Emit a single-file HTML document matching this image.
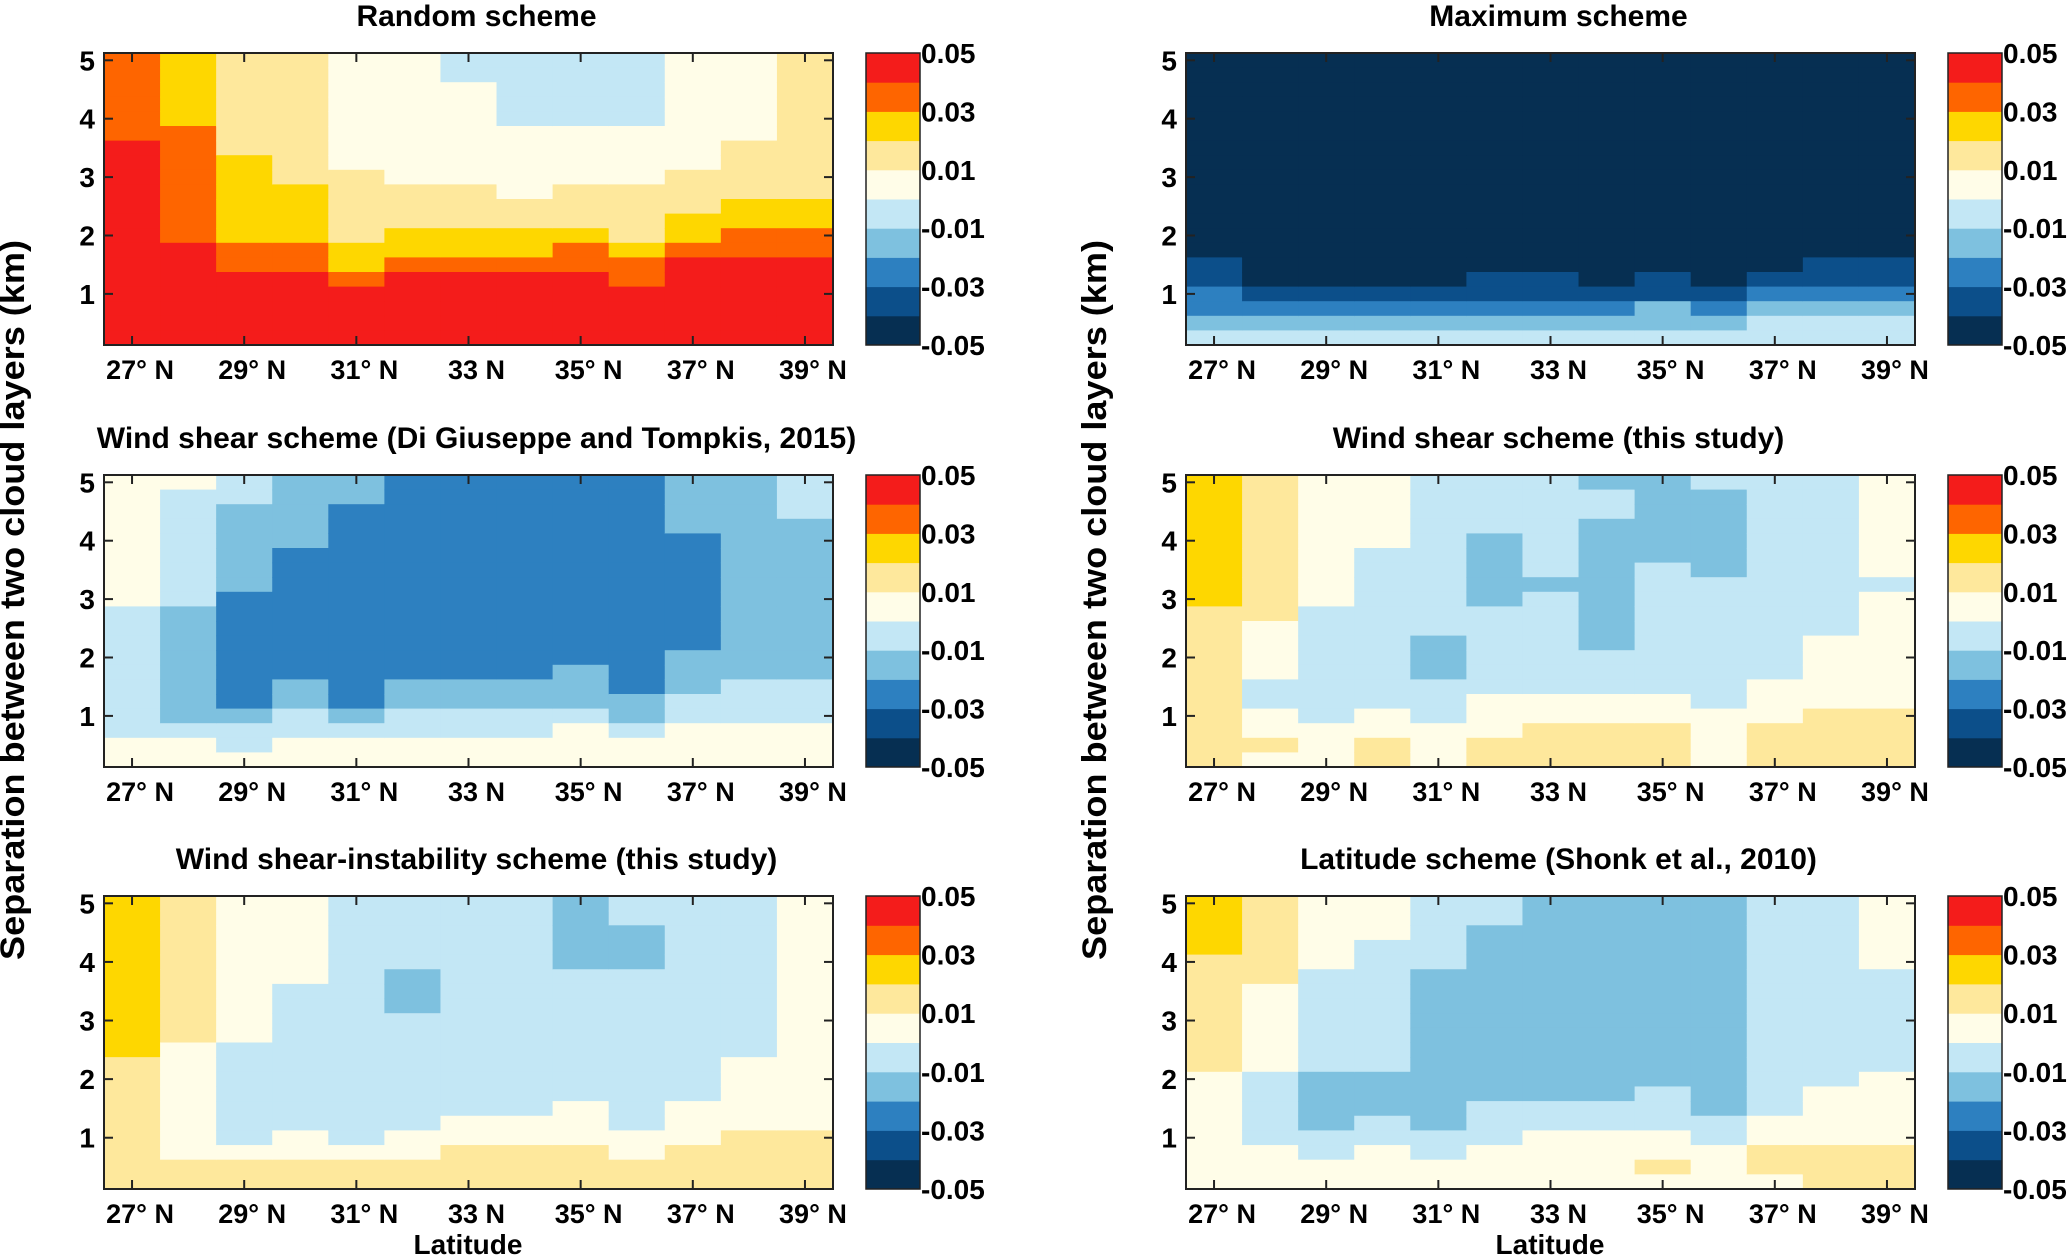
<!DOCTYPE html>
<html><head><meta charset="utf-8"><style>
html,body{margin:0;padding:0;background:#fff;}
svg{display:block;}
text{font-family:"Liberation Sans",sans-serif;font-weight:bold;fill:#000;}
</style></head>
<body>
<svg id="fig" width="2067" height="1258" viewBox="0 0 2067 1258" xmlns="http://www.w3.org/2000/svg">
<text x="24" y="600" font-size="34" text-anchor="middle" transform="rotate(-90 24 600)" textLength="720" lengthAdjust="spacingAndGlyphs">Separation between two cloud layers (km)</text>
<text x="1106" y="600" font-size="34" text-anchor="middle" transform="rotate(-90 1106 600)" textLength="720" lengthAdjust="spacingAndGlyphs">Separation between two cloud layers (km)</text>
<text x="468" y="1254" font-size="28" text-anchor="middle">Latitude</text>
<text x="1550" y="1254" font-size="28" text-anchor="middle">Latitude</text>
</svg>
<script>
// categories: latitude columns (deg N) and height rows (km, top to bottom centres)
const latitudes = [27,28,29,30,31,32,33,34,35,36,37,38,39];
const heights = [5,4.75,4.5,4.25,4,3.75,3.5,3.25,3,2.75,2.5,2.25,2,1.75,1.5,1.25,1,0.75,0.5,0.25];
const xTickValues = [27,29,31,33,35,37,39];
const xTickLabels = ["27° N","29° N","31° N","33 N","35° N","37° N","39° N"];
const yTickValues = [1,2,3,4,5];
const cbLevels = [-0.05,-0.04,-0.03,-0.02,-0.01,0,0.01,0.02,0.03,0.04,0.05];
const cbTickLabels = ["-0.05","-0.03","-0.01","0.01","0.03","0.05"];
const cbColors = ["#062f52","#0c4f8a","#2d80c0","#7ec1df","#c3e7f5","#fffde8","#fee89c","#fed700","#fe6500","#f41c1b"];
// series: each string = one latitude column, digits = colour class, top row first
const randomScheme = ["88888899999999999999","77777888888889999999","66666667777778899999","66666666677778899999","55555555666667789999","55555555566677899999","44555555566677899999","44444555556677899999","44444555566678899999","44444555566667889999","55555555666778999999","55555566667788999999","66666666667788999999"];
const maximumScheme = ["00000000000000112234","00000000000000001234","00000000000000001234","00000000000000001234","00000000000000001234","00000000000000011234","00000000000000011234","00000000000000001234","00000000000000011334","00000000000000001234","00000000000000012344","00000000000000112344","00000000000000112344"];
const windShearDG = ["55555555544444444455","54444444433333333455","44333333222222223445","33333222222222334455","33222222222222223455","22222222222222334455","22222222222222334455","22222222222222334455","22222222222223334555","22222222222222233455","33332222222233344555","33333333333333444555","44433333333333444555"];
const windShearThis = ["77777777766666666666","66666666665555445565","55555555544444444555","55555444444444445566","44444444444333444555","44443333344444455566","44444443444444455666","34433333333344455666","33333344444444455666","43333334444444445555","44444444444444555666","44444444444555556666","55555554555555556666"];
const shearInstability = ["77777777777666666666","66666666665555555566","55555555554444444566","55555544444444445566","44444444444444444566","44444333444444445566","44444444444444455666","44444444444444455666","33333444444444555666","44333444444444445566","44444444444444555666","44444444444555556666","55555555555555556666"];
const latitudeScheme = ["77776666666655555555","66666655555544444555","55555444444433334455","55544444444433344555","44444333333333334455","44333333333333444555","33333333333333445555","33333333333333445555","33333333333334445565","33333333333333344555","44444444444444455665","44444444444445555666","55555444444455555666"];

const NS="http://www.w3.org/2000/svg";
const svg=document.getElementById('fig');
function mk(tag,attrs,parent){const e=document.createElementNS(NS,tag);for(const k in attrs)e.setAttribute(k,attrs[k]);(parent||svg).appendChild(e);return e;}
function classValue(d){return (cbLevels[d]+cbLevels[d+1])/2;}
function colorOf(v){for(let i=0;i<cbColors.length;i++){if(v<cbLevels[i+1])return cbColors[i];}return cbColors[cbColors.length-1];}

const panels=[
 {title:"Random scheme",data:randomScheme,x0:104,x1:833,y0:53,y1:345,cb:866,name:"random"},
 {title:"Maximum scheme",data:maximumScheme,x0:1186,x1:1915,y0:53,y1:345,cb:1948,name:"maximum"},
 {title:"Wind shear scheme (Di Giuseppe and Tompkis, 2015)",data:windShearDG,x0:104,x1:833,y0:475,y1:767,cb:866,name:"wind-shear-dg"},
 {title:"Wind shear scheme (this study)",data:windShearThis,x0:1186,x1:1915,y0:475,y1:767,cb:1948,name:"wind-shear-this"},
 {title:"Wind shear-instability scheme (this study)",data:shearInstability,x0:104,x1:833,y0:896,y1:1189,cb:866,name:"shear-instability"},
 {title:"Latitude scheme (Shonk et al., 2010)",data:latitudeScheme,x0:1186,x1:1915,y0:896,y1:1189,cb:1948,name:"latitude"}
];
panels.forEach(p=>{
  const g=mk('g',{});
  
  
  const xs=lat=>p.x0+(lat-26.5)/13*(p.x1-p.x0);
  const ys=h=>p.y1-(h-0.125)/5*(p.y1-p.y0);
  const t=mk('text',{x:(p.x0+p.x1)/2+8,y:p.y0-27,'font-size':30,'text-anchor':'middle'},g);
  t.textContent=p.title;
  
  
  p.data.forEach((col,ci)=>{
    for(let ri=0;ri<col.length;ri++){
      const v=classValue(+col[ri]);
      const lat=latitudes[ci],h=heights[ri];
      const r=mk('rect',{x:xs(lat-0.5),y:ys(h+0.125),width:xs(lat+0.5)-xs(lat-0.5)+0.6,height:ys(h-0.125)-ys(h+0.125)+0.6,fill:colorOf(v)},g);
      
      
    }
  });
  const fr=mk('rect',{x:p.x0,y:p.y0,width:p.x1-p.x0,height:p.y1-p.y0,fill:'none',stroke:'#222','stroke-width':2},g);
  
  
  xTickValues.forEach((v,i)=>{
    const x=xs(v);
    mk('line',{x1:x,x2:x,y1:p.y1,y2:p.y1-9,stroke:'#222','stroke-width':2},g);
    mk('line',{x1:x,x2:x,y1:p.y0,y2:p.y0+9,stroke:'#222','stroke-width':2},g);
    const tl=mk('text',{x:x+8,y:p.y1+34,'font-size':27,'text-anchor':'middle'},g);
    tl.textContent=xTickLabels[i];
    
    
  });
  yTickValues.forEach(v=>{
    const y=ys(v);
    mk('line',{x1:p.x0,x2:p.x0+9,y1:y,y2:y,stroke:'#222','stroke-width':2},g);
    mk('line',{x1:p.x1,x2:p.x1-9,y1:y,y2:y,stroke:'#222','stroke-width':2},g);
    const tl=mk('text',{x:p.x0-9,y:y+10,'font-size':28,'text-anchor':'end'},g);
    tl.textContent=String(v);
    
    
  });
  const cbH=p.y1-p.y0, n=cbColors.length;
  cbColors.forEach((c,i)=>{
    const r=mk('rect',{x:p.cb,y:p.y1-(i+1)*cbH/n,width:54,height:cbH/n+0.5,fill:c},g);
    
    
  });
  mk('rect',{x:p.cb,y:p.y0,width:54,height:cbH,fill:'none',stroke:'#222','stroke-width':1.5},g);
  cbTickLabels.forEach((lab,i)=>{
    const y=p.y1-i*2*cbH/n;
    const tl=mk('text',{x:p.cb+55,y:y+10,'font-size':28},g);
    tl.textContent=lab;
    
    
  });
});
</script>
</body></html>
